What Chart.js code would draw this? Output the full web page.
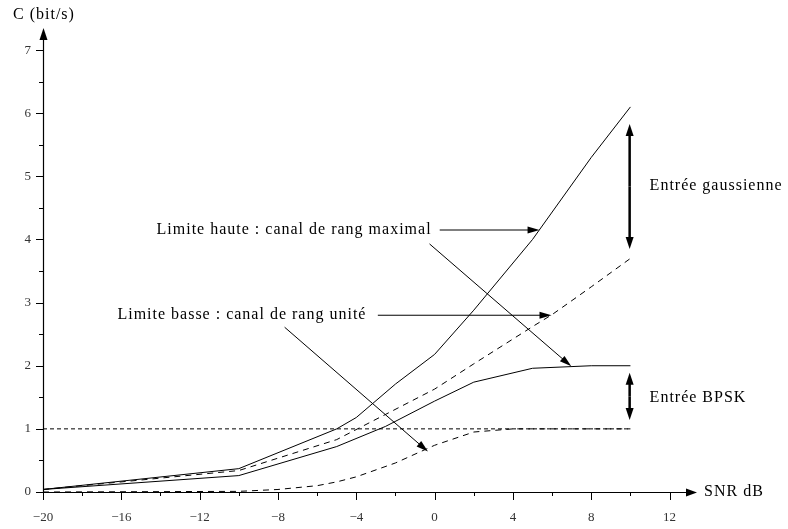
<!DOCTYPE html>
<html>
<head>
<meta charset="utf-8">
<script src="https://cdn.jsdelivr.net/npm/chart.js@4.4.0/dist/chart.umd.min.js"></script>
<style>
  html, body { margin: 0; padding: 0; background: #fff; }
  #wrap { width: 788px; height: 529px; }
</style>
</head>
<body>
<div id="wrap"><canvas id="chart" width="788" height="529"></canvas></div>
<script>
// Valeurs (SNR en dB, capacité en bit/s)
const snrGaussHaute = [-20, -10, -5, -4, -2, 0, 2, 5, 8, 10];
const capGaussHaute = [0.04, 0.37, 1.0, 1.18, 1.71, 2.18, 2.88, 4.0, 5.3, 6.1];

const snrGaussBasse = [-20, -10, -5, 0, 2, 5, 6, 8, 10];
const capGaussBasse = [0.04, 0.34, 0.83, 1.63, 2.03, 2.62, 2.81, 3.25, 3.7];

const snrBpskHaute = [-20, -10, -5, -2.5, 0, 2, 5, 8, 10];
const capBpskHaute = [0.04, 0.26, 0.72, 1.04, 1.44, 1.74, 1.96, 2.0, 2.0];

const snrBpskBasse = [-20, -10, -8, -6, -5, -4, -2, 0, 2, 4, 10];
const capBpskBasse = [0.0, 0.01, 0.04, 0.1, 0.16, 0.24, 0.46, 0.74, 0.95, 1.0, 1.0];

const snrLimiteUn = [-20, 10];
const capLimiteUn = [1, 1];

// Graduations
const xTicks = [-20, -16, -12, -8, -4, 0, 4, 8, 12];
const xMinorTicks = [-18, -14, -10, -6, -2, 2, 6, 10];
const yTicks = [0, 1, 2, 3, 4, 5, 6, 7];
const yMinorTicks = [0.5, 1.5, 2.5, 3.5, 4.5, 5.5, 6.5];

const SERIF = '"Liberation Serif", "Times New Roman", serif';

function pts(xs, ys) {
  return xs.map((x, i) => ({ x: x, y: ys[i] }));
}

function courbe(xs, ys, dash) {
  return {
    data: pts(xs, ys),
    borderColor: '#000',
    borderWidth: 1,
    borderDash: dash,
    pointRadius: 0,
    fill: false,
    tension: 0
  };
}

// Flèche avec pointe pleine
function fleche(ctx, x1, y1, x2, y2, largeur, longueur, demi) {
  const a = Math.atan2(y2 - y1, x2 - x1);
  ctx.save();
  ctx.lineWidth = largeur;
  ctx.strokeStyle = '#000';
  ctx.fillStyle = '#000';
  ctx.beginPath();
  ctx.moveTo(x1, y1);
  ctx.lineTo(x2 - Math.cos(a) * longueur * 0.8, y2 - Math.sin(a) * longueur * 0.8);
  ctx.stroke();
  ctx.beginPath();
  ctx.moveTo(x2, y2);
  ctx.lineTo(x2 - Math.cos(a) * longueur - Math.sin(a) * demi, y2 - Math.sin(a) * longueur + Math.cos(a) * demi);
  ctx.lineTo(x2 - Math.cos(a) * longueur + Math.sin(a) * demi, y2 - Math.sin(a) * longueur - Math.cos(a) * demi);
  ctx.closePath();
  ctx.fill();
  ctx.restore();
}

// Annotations (en unités des données)
const annotations = [
  { texte: 'Limite haute : canal de rang maximal', x: -14.2, y: 4.15, fleches: [[0.26, 4.15, 5.36, 4.15], [-0.26, 3.93, 6.98, 1.99]] },
  { texte: 'Limite basse : canal de rang unité', x: -16.2, y: 2.81, fleches: [[-2.9, 2.8, 5.97, 2.8], [-7.66, 2.61, -0.34, 0.64]] }
];

const decor = {
  id: 'decor',
  afterDatasetsDraw(chart) {
    const ctx = chart.ctx;
    const sx = chart.scales.x, sy = chart.scales.y;
    const x0 = sx.getPixelForValue(-20), y0 = sy.getPixelForValue(0);
    const xEnd = sx.right, yEnd = sy.top;

    ctx.save();
    ctx.strokeStyle = '#000';
    ctx.lineWidth = 1.2;
    // axes
    fleche(ctx, x0, y0 + 0.5, xEnd, y0 + 0.5, 1.2, 11, 4);
    fleche(ctx, x0 + 0.5, y0, x0 + 0.5, yEnd, 1.2, 12, 4);

    // graduations
    ctx.lineWidth = 1;
    ctx.beginPath();
    xTicks.forEach(v => { const p = Math.round(sx.getPixelForValue(v)) + 0.5; ctx.moveTo(p, y0); ctx.lineTo(p, y0 + 8); });
    xMinorTicks.forEach(v => { const p = Math.round(sx.getPixelForValue(v)) + 0.5; ctx.moveTo(p, y0); ctx.lineTo(p, y0 + 4); });
    yTicks.forEach(v => { const p = Math.round(sy.getPixelForValue(v)) + 0.5; ctx.moveTo(x0 - 7, p); ctx.lineTo(x0, p); });
    yMinorTicks.forEach(v => { const p = Math.round(sy.getPixelForValue(v)) + 0.5; ctx.moveTo(x0 - 4, p); ctx.lineTo(x0, p); });
    ctx.stroke();

    // titres des axes
    ctx.fillStyle = '#000';
    ctx.font = '16px ' + SERIF;
    ctx.letterSpacing = '1px';
    ctx.textBaseline = 'middle';
    ctx.textAlign = 'left';
    ctx.fillText('C (bit/s)', 13, 15);
    ctx.fillText('SNR dB', xEnd + 7, y0);

    // annotations avec flèches
    annotations.forEach(a => {
      ctx.fillText(a.texte, sx.getPixelForValue(a.x), sy.getPixelForValue(a.y));
      a.fleches.forEach(f => {
        fleche(ctx, sx.getPixelForValue(f[0]), sy.getPixelForValue(f[1]),
          sx.getPixelForValue(f[2]), sy.getPixelForValue(f[3]), 1, 12, 3.5);
      });
    });

    // doubles flèches épaisses
    const xd = sx.getPixelForValue(9.96);
    [[5.83, 3.85], [1.89, 1.14]].forEach(d => {
      const ya = sy.getPixelForValue(d[0]), yb = sy.getPixelForValue(d[1]);
      const ym = (ya + yb) / 2;
      fleche(ctx, xd, ym, xd, ya, 2.5, 12, 4);
      fleche(ctx, xd, ym, xd, yb, 2.5, 12, 4);
    });
    ctx.fillText('Entrée gaussienne', sx.getPixelForValue(10.98), sy.getPixelForValue(4.85));
    ctx.fillText('Entrée BPSK', sx.getPixelForValue(10.98), sy.getPixelForValue(1.49));
    ctx.restore();
  }
};

function fmt(v) {
  return v < 0 ? '\u2212' + Math.abs(v) : String(v);
}

new Chart(document.getElementById('chart'), {
  type: 'line',
  data: {
    datasets: [
      courbe(snrGaussHaute, capGaussHaute, []),
      courbe(snrGaussBasse, capGaussBasse, [6, 5]),
      courbe(snrBpskHaute, capBpskHaute, []),
      courbe(snrBpskBasse, capBpskBasse, [6, 5]),
      courbe(snrLimiteUn, capLimiteUn, [4, 3])
    ]
  },
  options: {
    responsive: false,
    animation: false,
    devicePixelRatio: 1,
    layout: { padding: { top: 28, right: 91, left: 0, bottom: 0 } },
    plugins: { legend: { display: false }, tooltip: { enabled: false } },
    scales: {
      x: {
        type: 'linear',
        min: -20,
        max: 13.4,
        grid: { display: false, drawTicks: false },
        border: { display: false },
        afterBuildTicks: s => { s.ticks = xTicks.map(v => ({ value: v })); },
        afterFit: s => { s.height = 37; },
        ticks: {
          padding: 18,
          autoSkip: false,
          maxRotation: 0,
          color: '#333',
          font: { family: SERIF, size: 13 },
          callback: v => fmt(v)
        }
      },
      y: {
        type: 'linear',
        min: 0,
        max: 7.35,
        grid: { display: false, drawTicks: false },
        border: { display: false },
        afterBuildTicks: s => { s.ticks = yTicks.map(v => ({ value: v })); },
        afterFit: s => { s.width = 43; },
        ticks: {
          padding: 12,
          autoSkip: false,
          color: '#333',
          font: { family: SERIF, size: 13 },
          callback: v => fmt(v)
        }
      }
    }
  },
  plugins: [decor]
});
</script>
</body>
</html>
